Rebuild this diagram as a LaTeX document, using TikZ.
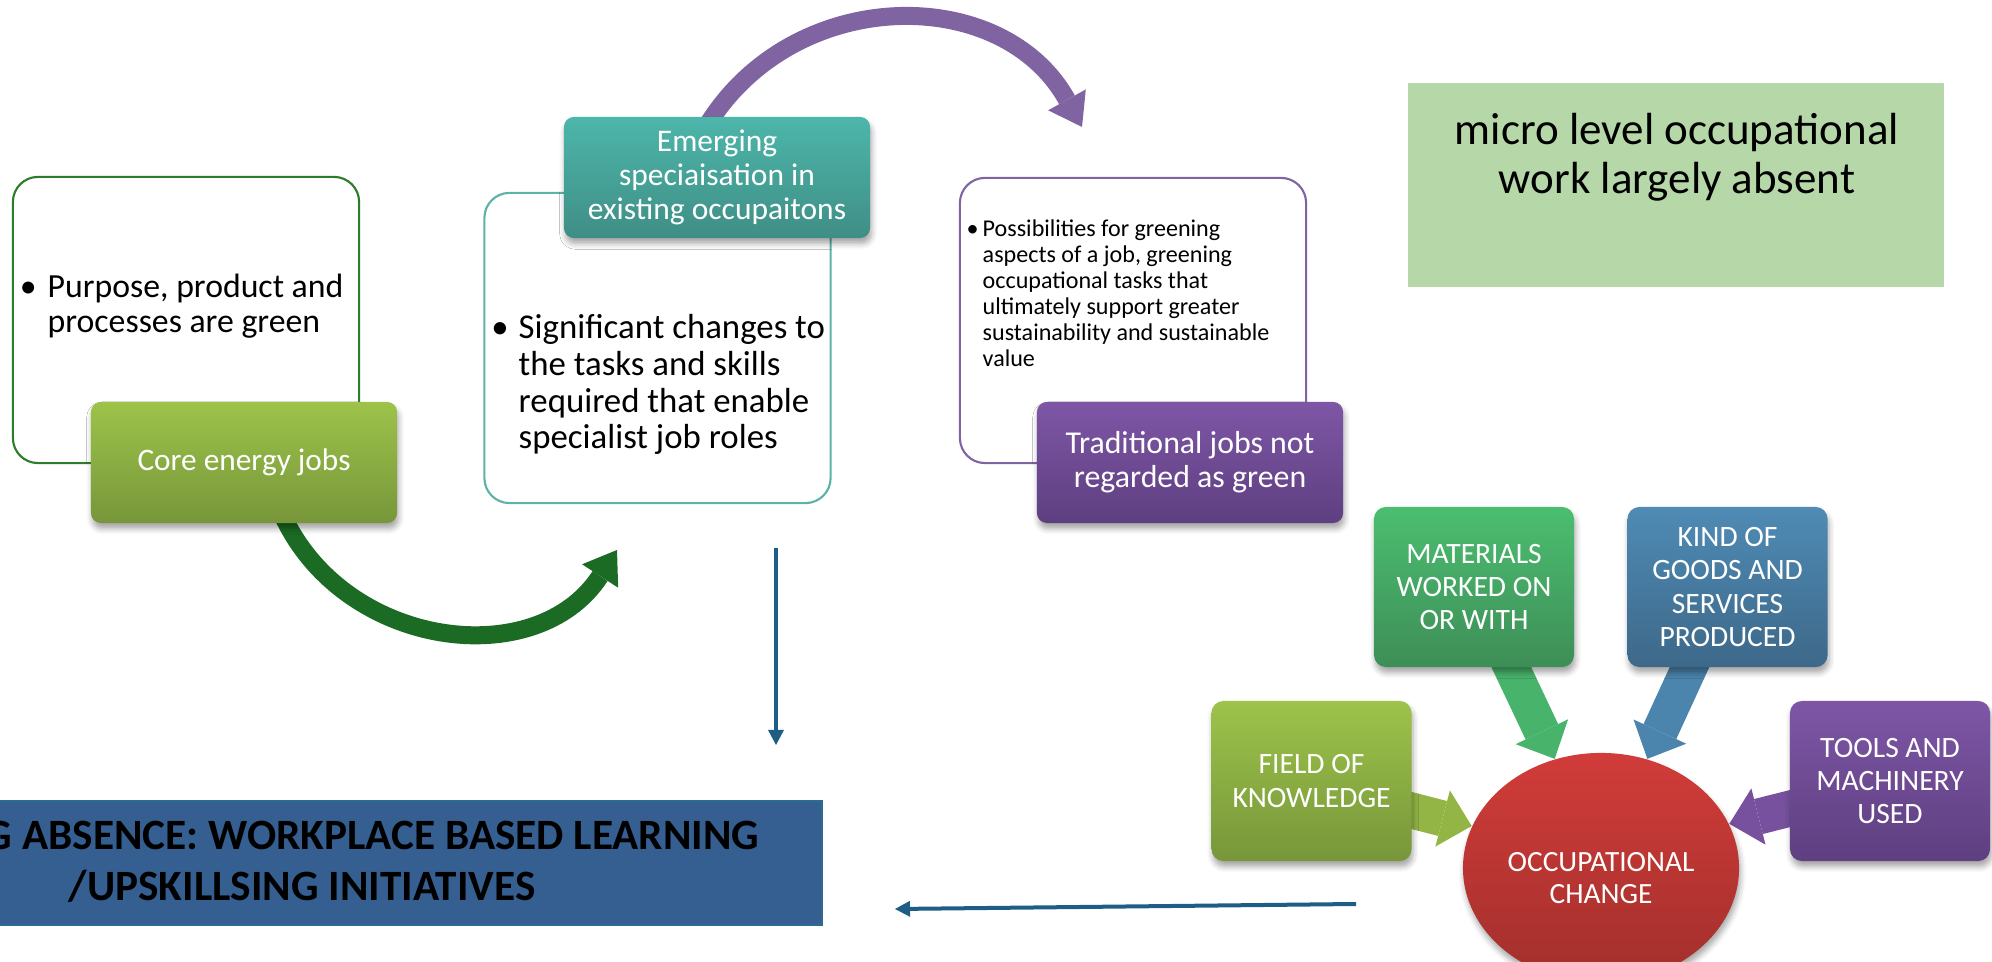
\documentclass[tikz,border=0pt]{standalone}
\usepackage{fontspec}
\setmainfont{Carlito}
\usetikzlibrary{arrows.meta,shapes.geometric,shadows.blur,backgrounds}

% palette
\definecolor{coretop}{HTML}{9DC34A}
\definecolor{corebot}{HTML}{77963A}
\definecolor{coreline}{HTML}{2B7C2B}
\definecolor{swinggreen}{HTML}{1B6B24}
\definecolor{emtop}{HTML}{4DB6AB}
\definecolor{embot}{HTML}{3F8E85}
\definecolor{emline}{HTML}{5BB3A8}
\definecolor{tradtop}{HTML}{7E56A6}
\definecolor{tradbot}{HTML}{5E3F80}
\definecolor{tradline}{HTML}{8064A2}
\definecolor{microgreen}{HTML}{B6D7A8}
\definecolor{gapblue}{HTML}{365F91}
\definecolor{gapedge}{HTML}{2C6C8F}
\definecolor{linkblue}{HTML}{1F5E84}
\definecolor{mattop}{HTML}{4BBE70}
\definecolor{matbot}{HTML}{3E8E57}
\definecolor{kindtop}{HTML}{4F8BB5}
\definecolor{kindbot}{HTML}{3D6889}
\definecolor{occtop}{HTML}{D13C39}
\definecolor{occbot}{HTML}{A22F2C}

\tikzset{
  note/.style={draw=#1, fill=white, rounded corners=0.25cm, line width=0.6pt,
    minimum width=3.46cm, minimum height=2.86cm},
  bullets/.style={anchor=base west, align=left, inner sep=0pt},
  soft/.style={blur shadow={shadow xshift=0.4pt, shadow yshift=-1.6pt,
    shadow blur radius=1.6pt, shadow opacity=35}},
  tag/.style 2 args={soft, rounded corners=0.1cm, minimum width=3.06cm, minimum height=1.21cm,
    top color=#1, bottom color=#2, text=white, align=center},
  factor/.style 2 args={soft, rounded corners=0.12cm, minimum width=2cm, minimum height=1.6cm,
    top color=#1, bottom color=#2, text=white, align=center,
    font=\fontsize{8.4}{9.5}\selectfont},
  feed/.style={draw=#1, line width=0.36cm,
    -{Triangle[length=0.3cm,width=0.58cm,line width=0pt]}},
  swing/.style={draw=#1, line width=0.18cm,
    -{Triangle[length=0.31cm,width=0.43cm,line width=0pt]}},
  link/.style={draw=linkblue, line width=0.04cm,
    -{Triangle[length=0.15cm,width=0.16cm,line width=0pt]}},
}

\begin{document}
\begin{tikzpicture}[x=0.01cm, y=0.01cm]
    \useasboundingbox (0,0) rectangle (1992,-962);

    % three job types: outline boxes
    \node[note=coreline] (pbox) at (186,-320) {};
    \node[note=emline, minimum height=3.1cm] (sig) at (657.5,-348) {};
    \node[note=tradline, minimum height=2.85cm] (poss) at (1133,-320.5) {};

    % (base = last line)
    \node[bullets, font=\fontsize{9.6}{10}\selectfont] (ptxt) at (47,-333)
        {\llap{\textbullet\hspace{0.11cm}}Purpose, product and\\processes are green};
    \node[bullets, font=\fontsize{9.9}{10.5}\selectfont] (sigtxt) at (518,-449)
        {\llap{\textbullet\hspace{0.1cm}}Significant changes to\\the tasks and skills\\required that enable\\specialist job roles};
    \node[bullets, font=\fontsize{6.85}{7.4}\selectfont] (posstxt) at (982,-367)
        {\llap{\textbullet\hspace{0.04cm}}Possibilities for greening\\aspects of a job, greening\\occupational tasks that\\ultimately support greater\\sustainability and sustainable\\value};

    % job type labels
    \node[tag={coretop}{corebot}, font=\fontsize{8.9}{10}\selectfont] (core) at (244,-462.5) {Core energy jobs};
    \node[tag={emtop}{embot}, font=\fontsize{8.95}{9.7}\selectfont] (emerg) at (717,-177.5)
        {Emerging\\speciaisation in\\existing occupaitons};
    \node[tag={tradtop}{tradbot}, font=\fontsize{9.05}{9.7}\selectfont] (trad) at (1190,-462.5)
        {Traditional jobs not\\regarded as green};

    % remark
    \node[fill=microgreen, minimum width=5.36cm, minimum height=2.04cm] (micro) at (1676,-185) {};
    \node[font=\fontsize{12.8}{14}\selectfont, align=center] (microtxt) at (1677,-157)
        {micro level occupational\\work largely absent};

    % gap banner
    \node[fill=gapblue, draw=gapedge, line width=0.5pt, minimum width=8.6cm, minimum height=1.24cm,
        anchor=east] (gap) at (823,-863) {};
    \node[font=\bfseries\fontsize{12.3}{14}\selectfont, anchor=base east, inner sep=0pt] (gap1) at (760,-850)
        {G ABSENCE: WORKPLACE BASED LEARNING};
    \node[font=\bfseries\fontsize{12.3}{14}\selectfont, anchor=base, inner sep=0pt] (gap2) at (302,-900)
        {/UPSKILLSING INITIATIVES};

    % occupational change
    \node[ellipse, soft, minimum width=2.76cm, minimum height=2.3cm, inner sep=0pt,
        top color=occtop, bottom color=occbot] (occ) at (1601,-868) {};
    \node[text=white, align=center, font=\fontsize{8.35}{9}\selectfont] (occtxt) at (1601,-878)
        {OCCUPATIONAL\\CHANGE};
    \node[factor={mattop}{matbot}] (mat) at (1474,-587) {MATERIALS\\WORKED ON\\OR WITH};
    \node[factor={kindtop}{kindbot}] (kind) at (1727.5,-587) {KIND OF\\GOODS AND\\SERVICES\\PRODUCED};
    \node[factor={coretop}{corebot}] (field) at (1311.5,-781) {FIELD OF\\KNOWLEDGE};
    \node[factor={tradtop}{tradbot}] (tools) at (1890,-781) {TOOLS AND\\MACHINERY\\USED};

    % links
    \coordinate (g0) at (283,-516);
    \coordinate (g1) at (617,-550);
    \coordinate (p0) at (708,-124);
    \coordinate (p1) at (1082,-127);
    \coordinate (down0) at (776,-548);
    \coordinate (down1) at (776,-745);
    \coordinate (back0) at (1356,-904);
    \coordinate (back1) at (895,-909);

    \begin{scope}[on background layer]
        \draw[swing=swinggreen] (g0) to[out=-65, in=237, looseness=1.12] (g1);
        \draw[swing=tradline] (p0) to[out=58, in=119, looseness=1.12] (p1);

        \draw[feed=mattop!80!matbot] ([xshift=0.29cm,yshift=0.18cm]mat.south) -- (occ.113);
        \draw[feed=kindtop!80!kindbot] ([xshift=-0.3cm,yshift=0.18cm]kind.south) -- (occ.67);
        \draw[feed=coretop!70!corebot] ([xshift=-0.18cm,yshift=-0.25cm]field.east) -- (occ.162);
        \draw[feed=tradtop!80!tradbot] ([xshift=0.19cm,yshift=-0.23cm]tools.west) -- (occ.19);
    \end{scope}

    \draw[link] (down0) -- (down1);
    \draw[link] (back0) -- (back1);
\end{tikzpicture}
\end{document}
